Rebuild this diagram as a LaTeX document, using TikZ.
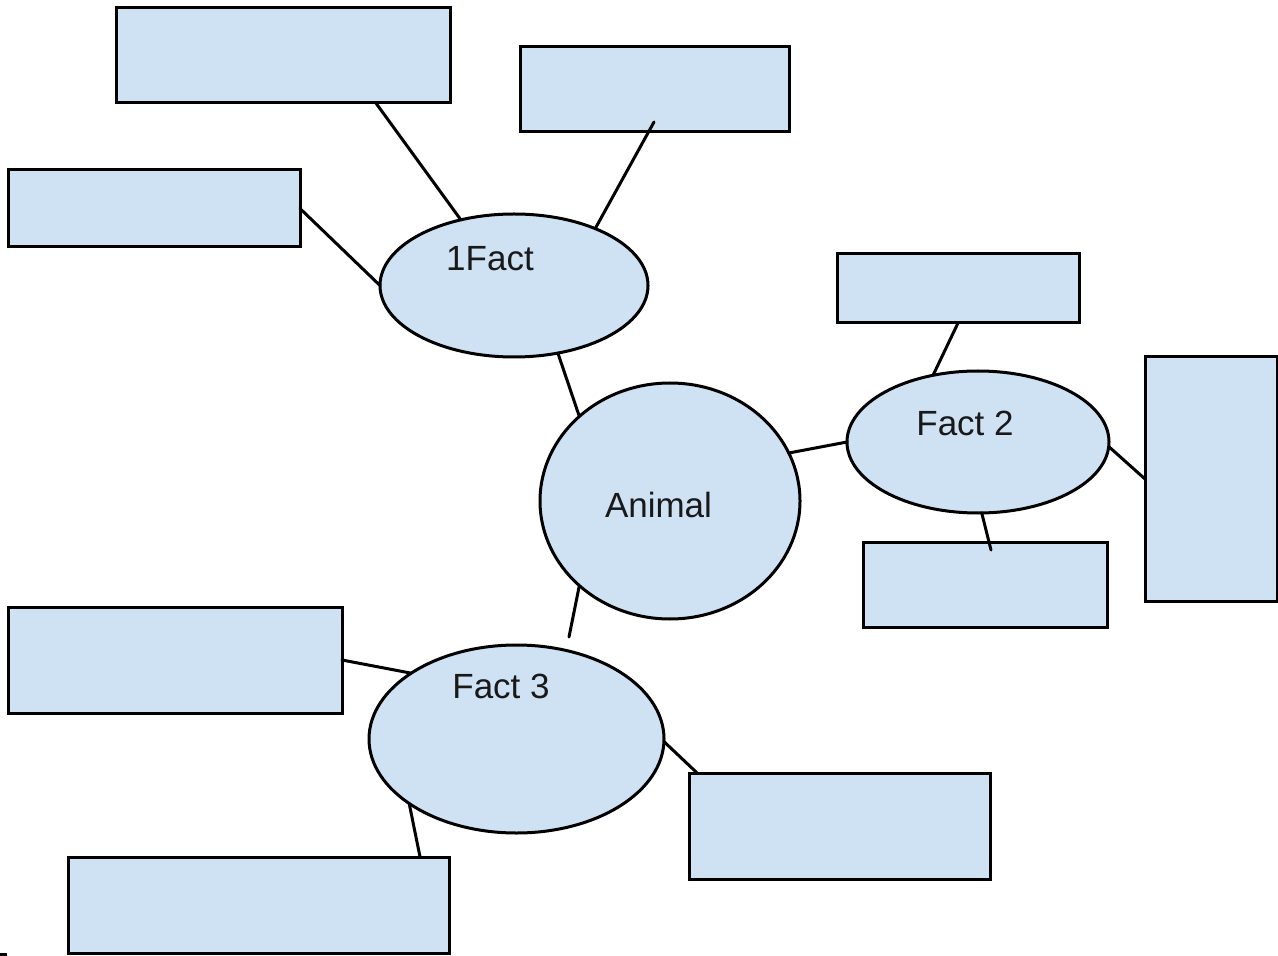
\documentclass[tikz,border=0pt]{standalone}
\usepackage{fontspec}
\setmainfont{Liberation Sans}
\usetikzlibrary{shapes.geometric,calc}
\definecolor{boxfill}{HTML}{CFE2F3}
\tikzset{
  px/.style={x=0.5pt,y=-0.5pt},
  boxnode/.style={draw=black,fill=boxfill,line width=1.5pt,rectangle,inner sep=0pt,outer sep=0pt},
  ellnode/.style={draw=black,fill=boxfill,line width=1.5pt,ellipse,inner sep=0pt,outer sep=0pt},
  lbl/.style={inner sep=0pt,font=\fontsize{17.5}{21}\selectfont,text=black!90},
  conn/.style={draw=black,line width=1.5pt,line cap=round}
}
\begin{document}
\begin{tikzpicture}[px]
\useasboundingbox (0,0) rectangle (1278,956);
% boxes
\node[boxnode,minimum width=167pt,minimum height=47.5pt] (A) at (283,55.5) {};
\node[boxnode,minimum width=134.5pt,minimum height=42.5pt] (B) at (654.5,89.5) {};
\node[boxnode,minimum width=146pt,minimum height=38.5pt] (C) at (154,208.5) {};
\node[boxnode,minimum width=121pt,minimum height=34.5pt] (D) at (958,288.5) {};
\node[boxnode,minimum width=122pt,minimum height=42.5pt] (E) at (985,584.5) {};
\node[boxnode,minimum width=66pt,minimum height=122pt] (F) at (1211,479) {};
\node[boxnode,minimum width=167pt,minimum height=53pt] (G) at (175,660) {};
\node[boxnode,minimum width=150.5pt,minimum height=53pt] (H) at (839.5,826) {};
\node[boxnode,minimum width=190.5pt,minimum height=48pt] (I) at (258.5,905) {};
% ellipses
\node[ellnode,minimum width=134pt,minimum height=71.5pt] (f1) at (514,285.5) {};
\node[ellnode,minimum width=130pt,minimum height=118pt] (an) at (670,501) {};
\node[ellnode,minimum width=131pt,minimum height=71pt] (f2) at (978,442) {};
\node[ellnode,minimum width=147.5pt,minimum height=94pt] (f3) at (516.5,739) {};
% labels
\node[lbl] (t1) at (490,258.5) {1Fact};
\node[lbl] (tan) at (658.5,504.5) {Animal};
\node[lbl] (t2) at (965,423.5) {Fact 2};
\node[lbl] (t3) at (501,686) {Fact 3};
% free ends
\coordinate (b1) at (654,122);
\coordinate (e1) at (991,550);
\coordinate (a3) at (569,637);
% connectors
\draw[conn] (f1.129) -- ($(A.south west)!0.778!(A.south east)$);
\draw[conn] (f1.35) -- (b1);
\draw[conn] (f1.west) -- (C.east);
\draw[conn] (f1.-57) -- (an.137);
\draw[conn] (an.22) -- (f2.west);
\draw[conn] (f2.124) -- (D.south);
\draw[conn] (f2.273) -- (e1);
\draw[conn] (f2.-2) -- (F.west);
\draw[conn] (an.223) -- (a3);
\draw[conn] (f3.148) -- (G.east);
\draw[conn] (f3.-1) -- ($(H.north west)!0.027!(H.north east)$);
\draw[conn] (f3.211) -- ($(I.north west)!0.924!(I.north east)$);
% stray mark
\draw[line width=1.5pt] (0,954.5) -- (7,954.5);
\end{tikzpicture}
\end{document}
